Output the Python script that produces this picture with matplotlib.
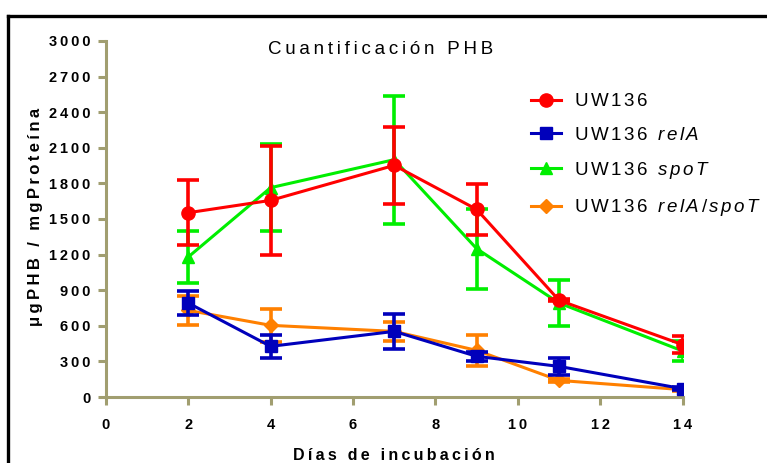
import matplotlib
matplotlib.use("Agg")
import matplotlib.pyplot as plt
from matplotlib.lines import Line2D

plt.rcParams['font.family'] = ['Liberation Sans', 'DejaVu Sans']
plt.rcParams['mathtext.fontset'] = 'custom'
plt.rcParams['mathtext.rm'] = 'Liberation Sans'
plt.rcParams['mathtext.it'] = 'Liberation Sans:italic'

# dias de incubacion
dias = [2, 4, 7, 9, 11, 14]

# ug PHB / mg proteina, con error
uw136 = [1553, 1657, 1952, 1581, 815, 441]
uw136_err = [275, 460, 325, 215, 10, 70]
rela = [792, 427, 553, 343, 258, 70]
rela_err = [98, 95, 150, 40, 72, 15]
spot = [1180, 1764, 2000, 1250, 792, 388]
spot_err = [220, 365, 540, 337, 190, 88]
relaspot = [730, 604, 553, 393, 140, 62]
relaspot_err = [125, 138, 80, 130, 10, 8]

labels = [r'$\mathrm{U\,W\,1\,3\,6}$',
          r'$\mathrm{U\,W\,1\,3\,6}\ \ \mathit{r\,e\,l\,A}$',
          r'$\mathrm{U\,W\,1\,3\,6}\ \ \mathit{s\,p\,o\,T}$',
          r'$\mathrm{U\,W\,1\,3\,6}\ \ \mathit{r\,e\,l\,A\,/\,s\,p\,o\,T}$']


def spaced(s):
    return '\u2009'.join(s)


fig = plt.figure(figsize=(7.67, 4.63), dpi=100)
ax = fig.add_axes([0.138, 0.1425, 0.752, 0.769])

spine_col = '#a19e70'
kw = dict(lw=2.2, elinewidth=2.6, capsize=8, capthick=2.6)

ax.errorbar(dias, relaspot, yerr=relaspot_err, color='#ff8000', marker='D', ms=7, zorder=2, **kw)
ax.errorbar(dias, spot, yerr=spot_err, color='#00ee00', marker='^', ms=9, zorder=3, **kw)
ax.errorbar(dias, rela, yerr=rela_err, color='#0000bb', marker='s', ms=9, zorder=4, **kw)
ax.errorbar(dias, uw136, yerr=uw136_err, color='#ff0000', marker='o', ms=9.5, zorder=5, **kw)

ax.set_xlim(0, 14)
ax.set_ylim(0, 3000)
ax.set_xticks(range(0, 15, 2))
ax.set_yticks(range(0, 3001, 300))
ax.set_xticklabels([spaced(str(v)) for v in range(0, 15, 2)], fontweight='bold', fontsize=10.5)
ax.set_yticklabels([spaced(str(v)) for v in range(0, 3001, 300)], fontweight='bold', fontsize=10.5)
ax.spines['top'].set_visible(False)
ax.spines['right'].set_visible(False)
for s in ['left', 'bottom']:
    ax.spines[s].set_color(spine_col)
    ax.spines[s].set_linewidth(2.2)
ax.tick_params(colors=spine_col, labelcolor='black', width=2.2, length=6)
ax.tick_params(axis='x', pad=9)
ax.tick_params(axis='y', pad=5)

fig.text(0.496, 0.894, spaced('Cuantificación PHB'), ha='center', va='center', fontsize=13.5)
fig.text(0.514, 0.017, spaced('Días de incubación'), ha='center', va='center',
         fontsize=11.5, fontweight='bold')
fig.text(0.046, 0.531, spaced('μgPHB / mgProteína'), ha='center', va='center',
         rotation=90, fontsize=12, fontweight='bold')

cols = ['#ff0000', '#0000bb', '#00ee00', '#ff8000']
marks = ['o', 's', '^', 'D']
sizes = [9.5, 9, 9, 7]
handles = [Line2D([], [], color=c, marker=m, ms=s, lw=2.2) for c, m, s in zip(cols, marks, sizes)]
fig.legend(handles, labels, loc='upper left', bbox_to_anchor=(0.683, 0.815), frameon=False,
           fontsize=13.5, handlelength=1.6, labelspacing=0.87, handletextpad=0.7,
           borderaxespad=0)

# marco negro
fig.add_artist(Line2D([0.0098, 1.0], [0.9665, 0.9665], color='black', lw=2.4, transform=fig.transFigure))
fig.add_artist(Line2D([0.0098, 0.0098], [0.0, 0.9665], color='black', lw=2.4, transform=fig.transFigure))

fig.savefig('out.png', dpi=100)
